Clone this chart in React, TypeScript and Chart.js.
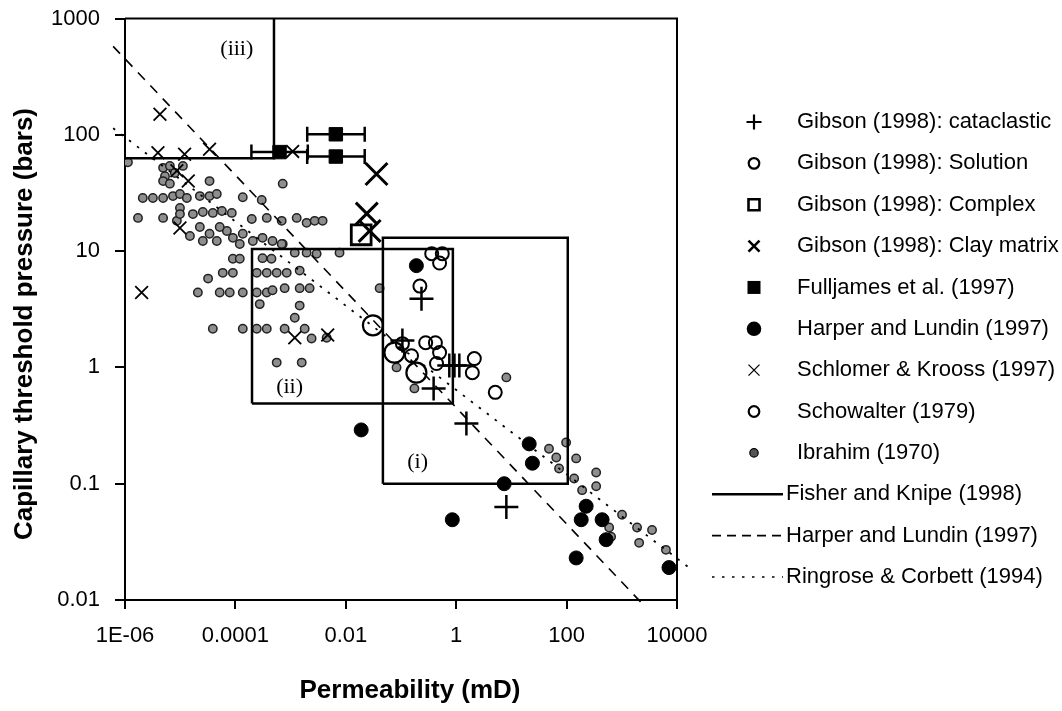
import React, { useEffect, useRef } from 'react';
import { Chart, registerables } from 'chart.js';

Chart.register(...registerables);

const SANS = '"Liberation Sans", Arial, Helvetica, sans-serif';
const SERIF = '"Liberation Serif", "Times New Roman", serif';

// ---- axes ----
const xTickValues = [1e-6, 1e-4, 1e-2, 1, 100, 10000];
const xTickLabels = ['1E-06', '0.0001', '0.01', '1', '100', '10000'];
const yTickValues = [0.01, 0.1, 1, 10, 100, 1000];
const yTickLabels = ['0.01', '0.1', '1', '10', '100', '1000'];
const xTitle = 'Permeability (mD)';
const yTitle = 'Capillary threshold pressure (bars)';

// ---- series names ----
const seriesNames = [
  'Gibson (1998): cataclastic',
  'Gibson (1998): Solution',
  'Gibson (1998): Complex',
  'Gibson (1998): Clay matrix',
  'Fulljames et al. (1997)',
  'Harper and Lundin (1997)',
  'Schlomer & Krooss (1997)',
  'Schowalter (1979)',
  'Ibrahim (1970)',
  'Fisher and Knipe (1998)',
  'Harper and Lundin (1997)',
  'Ringrose & Corbett (1994)',
];

// ---- data: permeability (mD) and capillary threshold pressure (bars) ----
const cataclasticK = [0.235, 0.106, 0.75, 0.93, 1.14, 0.39, 1.53, 8.1];
const cataclasticP = [3.9, 1.7, 1.04, 1.04, 1.04, 0.66, 0.33, 0.063];

const solutionK = [0.031, 0.076, 0.19];
const solutionP = [2.3, 1.34, 0.9];

const complexK = [0.019];
const complexP = [13.8];

const clayK = [0.036, 0.024, 0.027];
const clayP = [46, 21, 14.9];

const fulljamesK = [6.3e-4, 6.6e-3, 6.6e-3];
const fulljamesP = [71, 101, 65];
const fulljamesLow = [1.95e-4, 2.0e-3, 2.0e-3];
const fulljamesHigh = [2.05e-3, 2.2e-2, 2.2e-2];

const harperK = [0.19, 0.019, 21, 24, 7.4, 226, 184, 440, 520, 149, 7160, 0.85];
const harperP = [7.5, 0.29, 0.22, 0.15, 0.1, 0.064, 0.049, 0.049, 0.033, 0.023, 0.019, 0.049];

const schlomerK = [4.3e-6, 3.95e-6, 1.2e-5, 3.4e-5, 8.7e-6, 1.4e-5, 9.9e-6, 2.0e-6, 1.19e-3, 4.7e-3, 1.09e-3];
const schlomerP = [150, 70, 68, 75, 49, 40, 15.8, 4.4, 1.8, 1.9, 72];

const schowalterK = [0.106, 0.155, 0.28, 0.42, 0.5, 0.44, 2.13, 1.96, 0.36, 0.56, 0.5, 0.22, 5.1];
const schowalterP = [1.6, 1.26, 1.63, 1.63, 1.34, 1.08, 1.19, 0.9, 9.5, 9.5, 7.9, 5.0, 0.61];

const ibrahimK = [
  1.13e-6, 4.9e-6, 6.5e-6, 5.3e-6, 8.0e-6, 1.12e-5, 4.9e-6, 6.5e-6, 3.4e-5, 7.2e-4,
  2.1e-6, 3.2e-6, 4.9e-6, 7.4e-6, 9.9e-6, 1.32e-5, 2.27e-5, 3.4e-5, 4.6e-5, 1.36e-4,
  3.0e-4, 1.72e-6, 4.9e-6, 8.7e-6, 9.9e-6, 9.9e-6, 1.7e-5, 2.57e-5, 3.9e-5, 5.7e-5,
  8.6e-5, 1.98e-4, 3.7e-4, 6.9e-4, 1.29e-3, 1.95e-3, 2.73e-3, 3.8e-3, 3.4e-5, 4.6e-5,
  7.0e-5, 9.0e-5, 1.36e-4, 2.07e-4, 3.1e-4, 4.7e-4, 7.2e-4, 2.57e-5, 1.2e-4, 2.27e-5,
  5.2e-5, 1.5e-5, 9.0e-5, 1.2e-4, 3.1e-4, 4.5e-4, 6.9e-4, 1.19e-3, 1.95e-3, 2.96e-3,
  7.7e-3, 3.2e-5, 5.9e-5, 9.0e-5, 2.44e-4, 3.7e-4, 5.6e-4, 8.5e-4, 1.46e-3, 2.09e-5,
  5.2e-5, 7.9e-5, 1.36e-4, 2.44e-4, 3.7e-4, 4.7e-4, 7.8e-4, 1.46e-3, 2.21e-3, 2.76e-4,
  1.46e-3, 1.19e-3, 3.9e-5, 1.36e-4, 2.44e-4, 3.7e-4, 7.8e-4, 1.8e-3, 2.4e-3, 4.5e-3,
  5.6e-4, 1.59e-3, 0.041, 0.083, 0.175, 8.1, 48, 65, 98, 149,
  73, 137, 343, 343, 191, 1010, 1890, 3530, 2060, 590,
  640, 6300,
];
const ibrahimP = [
  58, 52, 54, 44, 47, 54, 40, 38, 40, 38,
  28.6, 28.6, 28.6, 29.7, 31, 28.6, 29.7, 29.7, 31, 29,
  27.5, 19.3, 19.3, 18.2, 23.5, 20.8, 20.8, 21.7, 21.3, 22.1,
  21.3, 18.9, 19.3, 18.2, 19.3, 17.5, 18.2, 18.2, 14.1, 12.2,
  14.9, 13.0, 14.1, 12.2, 13.0, 12.2, 11.5, 12.2, 11.5, 16.1,
  16.1, 13.5, 8.6, 8.6, 8.7, 8.6, 11.5, 9.7, 9.7, 9.5,
  9.7, 5.8, 6.5, 6.5, 6.5, 6.5, 6.5, 6.5, 6.8, 4.4,
  4.4, 4.4, 4.4, 4.4, 4.4, 4.6, 4.8, 4.8, 4.8, 3.5,
  3.4, 2.67, 2.15, 2.15, 2.15, 2.15, 2.15, 2.15, 1.77, 1.8,
  1.1, 1.1, 4.8, 1.0, 0.66, 0.82, 0.2, 0.168, 0.226, 0.165,
  0.135, 0.111, 0.125, 0.095, 0.088, 0.054, 0.042, 0.04, 0.031, 0.042,
  0.035, 0.027,
];

// Fisher and Knipe (1998) regions (i), (ii), (iii)
const boxIK = [0.047, 0.047, 105, 105, 0.047];
const boxIP = [0.1, 13, 13, 0.1, 0.1];
const boxIIK = [2e-4, 2e-4, 0.87, 0.87, 2e-4];
const boxIIP = [0.49, 10.4, 10.4, 0.49, 0.49];
const boxIIIK = [1e-6, 5e-4, 5e-4];
const boxIIIP = [63, 63, 1000];
const regionLabels = ['(i)', '(ii)', '(iii)'];
const regionLabelK = [0.2, 9.6e-4, 1.06e-4];
const regionLabelP = [0.153, 0.67, 542];

// Harper and Lundin (1997) trend and Ringrose & Corbett (1994) trend
const harperLineK = [6.1e-7, 2400];
const harperLineP = [576, 0.0092];
const ringroseLineK = [6.1e-7, 1.65e4];
const ringroseLineP = [114, 0.019];

const pts = (ks: number[], ps: number[]) => ks.map((k, i) => ({ x: k, y: ps[i] }));

type Kind = 'plus' | 'circle' | 'square' | 'xbold' | 'fsquare' | 'fcircle' | 'xthin' | 'dot' | 'solid' | 'dashed' | 'dotted';
const legendKinds: Kind[] = ['plus', 'circle', 'square', 'xbold', 'fsquare', 'fcircle', 'xthin', 'circle', 'dot', 'solid', 'dashed', 'dotted'];

function drawLegendMarker(ctx: CanvasRenderingContext2D, kind: Kind, x: number, y: number) {
  ctx.save();
  ctx.strokeStyle = '#000';
  ctx.fillStyle = '#000';
  ctx.setLineDash([]);
  ctx.beginPath();
  switch (kind) {
    case 'plus':
      ctx.lineWidth = 2.2;
      ctx.moveTo(x - 7.5, y); ctx.lineTo(x + 7.5, y);
      ctx.moveTo(x, y - 7.5); ctx.lineTo(x, y + 7.5);
      ctx.stroke();
      break;
    case 'circle':
      ctx.lineWidth = 2.2;
      ctx.arc(x, y, 5.3, 0, Math.PI * 2);
      ctx.stroke();
      break;
    case 'square':
      ctx.lineWidth = 2.6;
      ctx.rect(x - 5.5, y - 5.5, 11, 11);
      ctx.stroke();
      break;
    case 'xbold':
      ctx.lineWidth = 2.6;
      ctx.moveTo(x - 5.5, y - 5.5); ctx.lineTo(x + 5.5, y + 5.5);
      ctx.moveTo(x + 5.5, y - 5.5); ctx.lineTo(x - 5.5, y + 5.5);
      ctx.stroke();
      break;
    case 'fsquare':
      ctx.fillRect(x - 6.5, y - 6.5, 13, 13);
      break;
    case 'fcircle':
      ctx.arc(x, y, 7.3, 0, Math.PI * 2);
      ctx.fill();
      break;
    case 'xthin':
      ctx.lineWidth = 1.3;
      ctx.moveTo(x - 5.5, y - 5.5); ctx.lineTo(x + 5.5, y + 5.5);
      ctx.moveTo(x + 5.5, y - 5.5); ctx.lineTo(x - 5.5, y + 5.5);
      ctx.stroke();
      break;
    case 'dot':
      ctx.fillStyle = '#555';
      ctx.lineWidth = 1.2;
      ctx.arc(x, y, 4.2, 0, Math.PI * 2);
      ctx.fill();
      ctx.stroke();
      break;
    case 'solid':
    case 'dashed':
    case 'dotted':
      ctx.lineWidth = kind === 'solid' ? 2.5 : 1.6;
      if (kind === 'dashed') ctx.setLineDash([9, 6]);
      if (kind === 'dotted') ctx.setLineDash([2.5, 7.5]);
      ctx.moveTo(712, y); ctx.lineTo(783, y);
      ctx.stroke();
      break;
  }
  ctx.restore();
}

const overlayPlugin = {
  id: 'overlay',
  afterDraw(chart: any) {
    const { ctx, chartArea: a } = chart;
    const xs = chart.scales.x;
    const ys = chart.scales.y;
    ctx.save();
    // frame (top and right)
    ctx.strokeStyle = '#000';
    ctx.lineWidth = 2;
    ctx.beginPath();
    ctx.moveTo(a.left, a.top);
    ctx.lineTo(a.right, a.top);
    ctx.lineTo(a.right, a.bottom);
    ctx.stroke();

    // region labels
    ctx.fillStyle = '#000';
    ctx.font = `22px ${SERIF}`;
    ctx.textAlign = 'center';
    ctx.textBaseline = 'middle';
    regionLabels.forEach((t, i) => {
      ctx.fillText(t, xs.getPixelForValue(regionLabelK[i]), ys.getPixelForValue(regionLabelP[i]));
    });

    // axis titles
    ctx.font = `bold 26px ${SANS}`;
    ctx.textAlign = 'center';
    ctx.textBaseline = 'alphabetic';
    ctx.fillText(xTitle, 410, 698);
    ctx.save();
    ctx.translate(25, 324);
    ctx.rotate(-Math.PI / 2);
    ctx.textBaseline = 'middle';
    ctx.fillText(yTitle, 0, 0);
    ctx.restore();

    // legend
    ctx.font = `22px ${SANS}`;
    ctx.textAlign = 'left';
    ctx.textBaseline = 'middle';
    seriesNames.forEach((name, i) => {
      const y = 122 + i * 41.36;
      const kind = legendKinds[i];
      const isLine = kind === 'solid' || kind === 'dashed' || kind === 'dotted';
      drawLegendMarker(ctx, kind, 754, y);
      ctx.fillStyle = '#000';
      ctx.fillText(name, isLine ? 786 : 797, y);
    });
    ctx.restore();
  },
};

export default function App() {
  const ref = useRef<HTMLCanvasElement>(null);

  useEffect(() => {
    const canvas = ref.current;
    if (!canvas) return;

    const lineDs = (label: string, ks: number[], ps: number[], extra: any) => ({
      label,
      data: pts(ks, ps),
      showLine: true,
      borderColor: '#000',
      backgroundColor: 'rgba(0,0,0,0)',
      pointRadius: 0,
      tension: 0,
      fill: false,
      ...extra,
    });

    const errorBars = fulljamesK.map((_, i) =>
      lineDs('Fulljames error', [fulljamesLow[i], fulljamesHigh[i]], [fulljamesP[i], fulljamesP[i]], {
        borderWidth: 2.5,
        pointStyle: 'line',
        pointRadius: 7.5,
        pointRotation: 90,
        pointBorderWidth: 2.5,
        pointBorderColor: '#000',
        order: 5,
      })
    );

    const chart = new Chart(canvas, {
      type: 'scatter',
      data: {
        datasets: [
          {
            label: seriesNames[0],
            data: pts(cataclasticK, cataclasticP),
            pointStyle: 'cross',
            pointRadius: 12,
            pointBorderWidth: 2.5,
            pointBorderColor: '#000',
            pointBackgroundColor: '#000',
            order: 1,
          },
          {
            label: seriesNames[1],
            data: pts(solutionK, solutionP),
            pointStyle: 'circle',
            pointRadius: 10,
            pointBorderWidth: 2.2,
            pointBorderColor: '#000',
            pointBackgroundColor: 'rgba(0,0,0,0)',
            order: 2,
          },
          {
            label: seriesNames[2],
            data: pts(complexK, complexP),
            pointStyle: 'rect',
            pointRadius: 14,
            pointBorderWidth: 2.8,
            pointBorderColor: '#000',
            pointBackgroundColor: 'rgba(0,0,0,0)',
            order: 3,
          },
          {
            label: seriesNames[3],
            data: pts(clayK, clayP),
            pointStyle: 'crossRot',
            pointRadius: 15.5,
            pointBorderWidth: 3,
            pointBorderColor: '#000',
            order: 3,
          },
          {
            label: seriesNames[4],
            data: pts(fulljamesK, fulljamesP),
            pointStyle: 'rect',
            pointRadius: 9.5,
            pointBorderWidth: 1,
            pointBorderColor: '#000',
            pointBackgroundColor: '#000',
            order: 4,
          },
          ...errorBars,
          {
            label: seriesNames[5],
            data: pts(harperK, harperP),
            pointStyle: 'circle',
            pointRadius: 7,
            pointBorderWidth: 1,
            pointBorderColor: '#000',
            pointBackgroundColor: '#000',
            order: 6,
          },
          {
            label: seriesNames[6],
            data: pts(schlomerK, schlomerP),
            pointStyle: 'crossRot',
            pointRadius: 9,
            pointBorderWidth: 1.8,
            pointBorderColor: '#000',
            order: 6,
          },
          {
            label: seriesNames[7],
            data: pts(schowalterK, schowalterP),
            pointStyle: 'circle',
            pointRadius: 6.5,
            pointBorderWidth: 2,
            pointBorderColor: '#000',
            pointBackgroundColor: 'rgba(0,0,0,0)',
            order: 7,
          },
          lineDs(seriesNames[10], harperLineK, harperLineP, { borderWidth: 1.6, borderDash: [10, 8], clip: false, order: 8 }),
          lineDs(seriesNames[11], ringroseLineK, ringroseLineP, { borderWidth: 1.8, borderDash: [2.5, 7.5], clip: false, order: 8 }),
          lineDs(seriesNames[9], boxIK, boxIP, { borderWidth: 2.5, order: 9 }),
          lineDs(seriesNames[9], boxIIK, boxIIP, { borderWidth: 2.5, order: 9 }),
          lineDs(seriesNames[9], boxIIIK, boxIIIP, { borderWidth: 2.5, order: 9 }),
          {
            label: seriesNames[8],
            data: pts(ibrahimK, ibrahimP),
            pointStyle: 'circle',
            pointRadius: 4.2,
            pointBorderWidth: 1.5,
            pointBorderColor: '#222',
            pointBackgroundColor: '#8e8e8e',
            order: 10,
          },
        ] as any,
      },
      options: {
        animation: false,
        responsive: false,
        maintainAspectRatio: false,
        events: [],
        layout: { padding: { top: 17, right: 385, left: 0, bottom: 0 } },
        plugins: {
          legend: { display: false },
          tooltip: { enabled: false },
          title: { display: false },
        },
        scales: {
          x: {
            type: 'logarithmic',
            position: 'bottom',
            min: 1e-6,
            max: 1e4,
            afterBuildTicks: (axis: any) => {
              axis.ticks = xTickValues.map((v) => ({ value: v }));
            },
            afterFit: (axis: any) => {
              axis.height = 111;
              axis.paddingLeft = 0;
              axis.paddingRight = 0;
            },
            ticks: {
              autoSkip: false,
              maxRotation: 0,
              minRotation: 0,
              padding: 14,
              color: '#000',
              font: { family: SANS, size: 22 },
              callback: (_v: any, i: number) => xTickLabels[i],
            },
            grid: { display: true, drawOnChartArea: false, drawTicks: true, tickLength: 9, color: '#000', lineWidth: 2 },
            border: { display: true, color: '#000', width: 2 },
          },
          y: {
            type: 'logarithmic',
            position: 'left',
            min: 0.01,
            max: 1000,
            afterBuildTicks: (axis: any) => {
              axis.ticks = yTickValues.map((v) => ({ value: v }));
            },
            afterFit: (axis: any) => {
              axis.width = 125;
              axis.paddingTop = 0;
              axis.paddingBottom = 0;
            },
            ticks: {
              autoSkip: false,
              padding: 15,
              color: '#000',
              font: { family: SANS, size: 22 },
              callback: (_v: any, i: number) => yTickLabels[i],
            },
            grid: { display: true, drawOnChartArea: false, drawTicks: true, tickLength: 10, color: '#000', lineWidth: 2 },
            border: { display: true, color: '#000', width: 2 },
          },
        },
      } as any,
      plugins: [overlayPlugin],
    });

    return () => chart.destroy();
  }, []);

  return (
    <div style={{ position: 'absolute', left: 0, top: 0, width: 1062, height: 711, background: '#fff' }}>
      <canvas ref={ref} width={1062} height={711} style={{ width: 1062, height: 711, display: 'block' }} />
    </div>
  );
}
